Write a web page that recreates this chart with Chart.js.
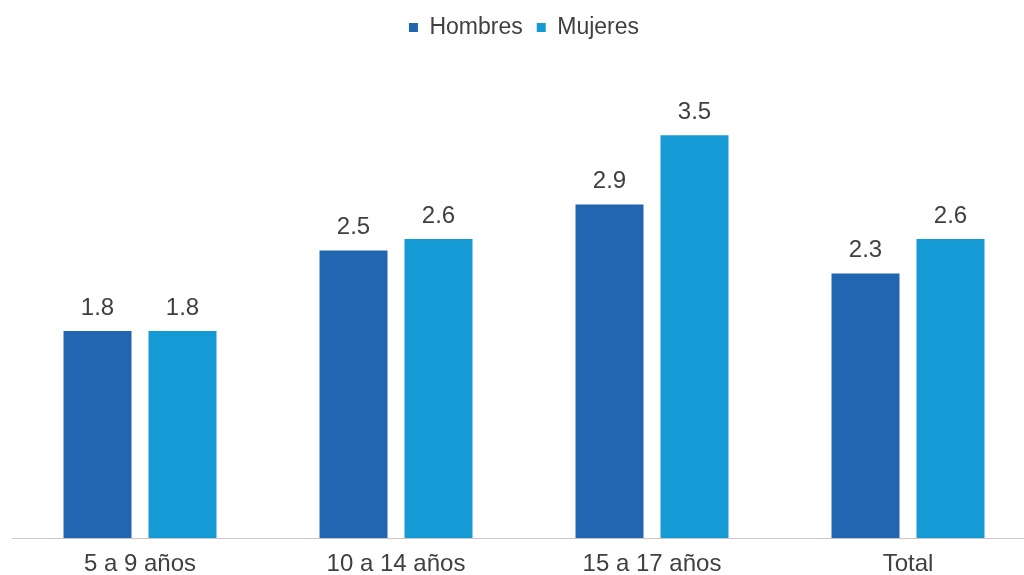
<!DOCTYPE html>
<html>
<head>
<meta charset="utf-8">
<script src="https://cdn.jsdelivr.net/npm/chart.js@4/dist/chart.umd.min.js"></script>
<style>
  html, body { margin: 0; padding: 0; background: #fff; overflow: hidden; }
  #wrap { width: 1036px; height: 575px; }
</style>
</head>
<body>
<div id="wrap"><canvas id="myChart"></canvas></div>
<script>
const categories = ['5 a 9 años', '10 a 14 años', '15 a 17 años', 'Total'];
const hombres = [1.8, 2.5, 2.9, 2.3];
const mujeres = [1.8, 2.6, 3.5, 2.6];

const FONT = '"Liberation Sans", Arial, sans-serif';

// simple value labels above each bar
const barLabels = {
    id: 'barLabels',
    afterDatasetsDraw(chart) {
        const ctx = chart.ctx;
        ctx.save();
        ctx.font = '24px ' + FONT;
        ctx.fillStyle = '#404040';
        ctx.textAlign = 'center';
        ctx.textBaseline = 'alphabetic';
        chart.data.datasets.forEach((ds, i) => {
            chart.getDatasetMeta(i).data.forEach((bar, j) => {
                ctx.fillText(ds.data[j].toFixed(1), bar.x, bar.y - 16);
            });
        });
        ctx.restore();
    }
};

window.addEventListener('DOMContentLoaded', () => {
    const ctx = document.getElementById('myChart').getContext('2d');
    new Chart(ctx, {
        type: 'bar',
        data: {
            labels: categories,
            datasets: [{
                label: 'Hombres',
                data: hombres,
                backgroundColor: '#2166B0'
            }, {
                label: 'Mujeres',
                data: mujeres,
                backgroundColor: '#169AD6'
            }]
        },
        options: {
            responsive: true,
            maintainAspectRatio: false,
            animation: false,
            categoryPercentage: 0.664,
            barPercentage: 0.8,
            layout: { padding: { left: 12, right: 0, top: 2, bottom: -8 } },
            plugins: {
                legend: {
                    position: 'top',
                    labels: {
                        boxWidth: 9,
                        boxHeight: 9,
                        color: '#404040',
                        font: { size: 23, family: FONT },
                        padding: 14
                    }
                },
                tooltip: { enabled: false }
            },
            scales: {
                x: {
                    grid: { display: false },
                    border: { display: true, color: '#D0C8C8', width: 1 },
                    ticks: {
                        color: '#404040',
                        padding: 4,
                        font: { size: 24, family: FONT }
                    }
                },
                y: {
                    display: false,
                    min: 0,
                    max: 4.25
                }
            }
        },
        plugins: [barLabels]
    });
});
</script>
</body>
</html>
